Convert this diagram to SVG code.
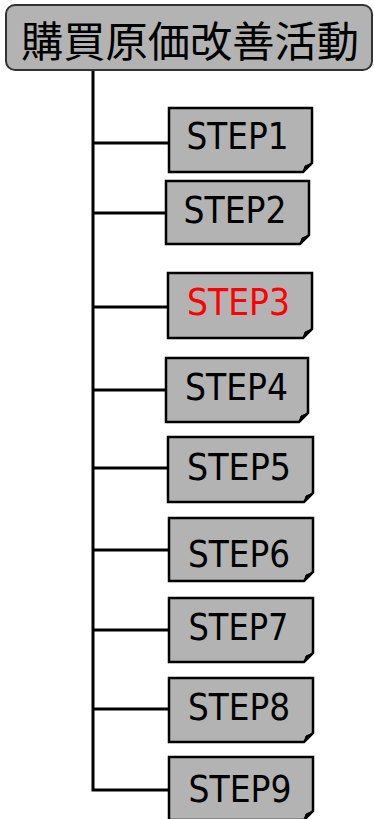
<svg xmlns="http://www.w3.org/2000/svg" width="374" height="819" viewBox="0 0 374 819">
<style>
.box{fill:#b3b3b3;stroke:#000;stroke-width:2.5;stroke-linejoin:miter}
.fold{fill:#000;stroke:#000;stroke-width:1}
.lbl{font-family:"DejaVu Sans","Liberation Sans",sans-serif;font-size:37px;fill:#000;text-anchor:middle}
.con{fill:none;stroke:#000;stroke-width:3}
</style>
<rect width="374" height="819" fill="#fff"/>
<g id="connectors">
<polyline class="con" points="93,70 93,790 169,790"/>
<line class="con" x1="93" y1="143" x2="169" y2="143"/>
<line class="con" x1="93" y1="213" x2="166" y2="213"/>
<line class="con" x1="93" y1="307" x2="168" y2="307"/>
<line class="con" x1="93" y1="390" x2="166" y2="390"/>
<line class="con" x1="93" y1="468" x2="168" y2="468"/>
<line class="con" x1="93" y1="550" x2="169" y2="550"/>
<line class="con" x1="93" y1="630" x2="169" y2="630"/>
<line class="con" x1="93" y1="709" x2="169" y2="709"/>
</g>
<g id="title">
<rect x="6" y="5" width="366" height="65" rx="9" fill="#b3b3b3" stroke="#333" stroke-width="2"/>
<text x="190" y="57" font-family="'Noto Sans CJK JP','Noto Sans CJK SC',sans-serif" font-size="42" text-anchor="middle" fill="#000" textLength="338" lengthAdjust="spacingAndGlyphs">購買原価改善活動</text>
</g>
<g id="step1">
<path class="box" d="M169,108 H312 V163 L303,172 H169 Z"/>
<path class="fold" d="M312,163 L303,172 L305,166 Z"/>
<text class="lbl" x="237.5" y="149" textLength="102" lengthAdjust="spacingAndGlyphs">STEP1</text>
</g>
<g id="step2">
<path class="box" d="M166,181 H309 V235 L300,244 H166 Z"/>
<path class="fold" d="M309,235 L300,244 L302,238 Z"/>
<text class="lbl" x="235" y="223" textLength="103" lengthAdjust="spacingAndGlyphs">STEP2</text>
</g>
<g id="step3">
<path class="box" d="M168,273 H312 V329 L303,338 H168 Z"/>
<path class="fold" d="M312,329 L303,338 L305,332 Z"/>
<text class="lbl" x="238.5" y="315" style="fill:#ff0000" textLength="103" lengthAdjust="spacingAndGlyphs">STEP3</text>
</g>
<g id="step4">
<path class="box" d="M166,358 H308 V413 L299,422 H166 Z"/>
<path class="fold" d="M308,413 L299,422 L301,416 Z"/>
<text class="lbl" x="236.5" y="400" textLength="103" lengthAdjust="spacingAndGlyphs">STEP4</text>
</g>
<g id="step5">
<path class="box" d="M168,437 H313 V493 L304,502 H168 Z"/>
<path class="fold" d="M313,493 L304,502 L306,496 Z"/>
<text class="lbl" x="239" y="480" textLength="104" lengthAdjust="spacingAndGlyphs">STEP5</text>
</g>
<g id="step6">
<path class="box" d="M169,518 H313 V572 L304,581 H169 Z"/>
<path class="fold" d="M313,572 L304,581 L306,575 Z"/>
<text class="lbl" x="239" y="566.5" textLength="102" lengthAdjust="spacingAndGlyphs">STEP6</text>
</g>
<g id="step7">
<path class="box" d="M169,598 H313 V653 L304,662 H169 Z"/>
<path class="fold" d="M313,653 L304,662 L306,656 Z"/>
<text class="lbl" x="238.5" y="640" textLength="100" lengthAdjust="spacingAndGlyphs">STEP7</text>
</g>
<g id="step8">
<path class="box" d="M169,678 H313 V733 L304,742 H169 Z"/>
<path class="fold" d="M313,733 L304,742 L306,736 Z"/>
<text class="lbl" x="239" y="720" textLength="102" lengthAdjust="spacingAndGlyphs">STEP8</text>
</g>
<g id="step9">
<path class="box" d="M169,757 H313 V811 L304,820 H169 Z"/>
<path class="fold" d="M313,811 L304,820 L306,814 Z"/>
<text class="lbl" x="240" y="801.5" textLength="103" lengthAdjust="spacingAndGlyphs">STEP9</text>
</g>
</svg>
